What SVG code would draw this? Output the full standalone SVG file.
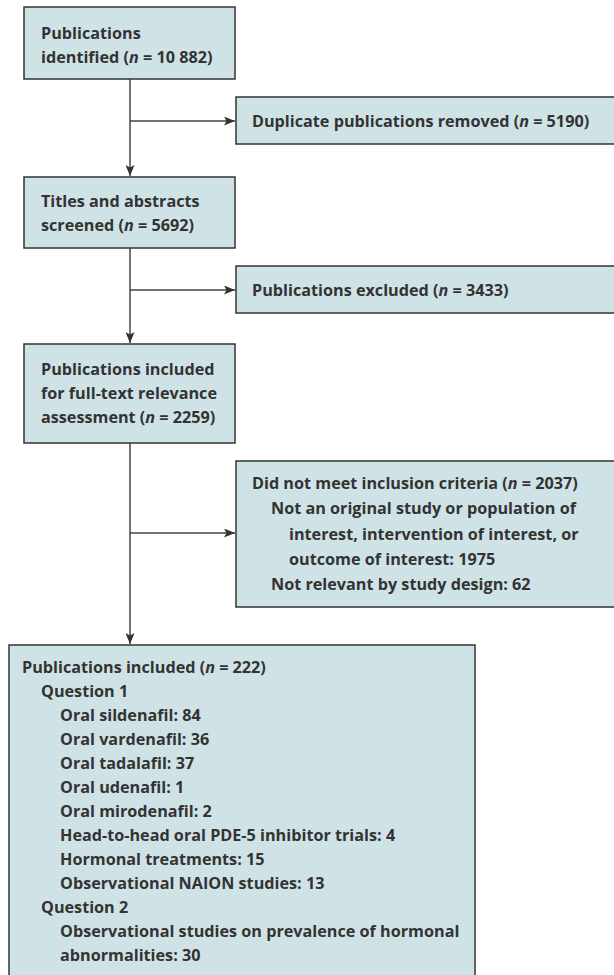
<svg xmlns="http://www.w3.org/2000/svg" width="614" height="975" viewBox="0 0 614 975">
<style>
.box{fill:#cfe3e6;stroke:#333;stroke-width:1.5}
.t{font-family:"Open Sans","Noto Sans",sans-serif;font-weight:bold;font-size:16.2px;fill:#333}
.i{font-style:italic}
.c{stroke:#444;stroke-width:1.5;fill:none}
</style>
<defs>
<marker id="ah" markerWidth="11" markerHeight="9" refX="11" refY="4.5" orient="auto" markerUnits="userSpaceOnUse">
<path d="M0,0 L11,4.5 L0,9 L2.5,4.5 Z" fill="#333"/>
</marker>
</defs>
<rect width="614" height="975" fill="#fff"/>
<g id="connectors">
<line class="c" x1="130" y1="79" x2="130" y2="176" marker-end="url(#ah)"/>
<line class="c" x1="130" y1="121" x2="235" y2="121" marker-end="url(#ah)"/>
<line class="c" x1="130" y1="248" x2="130" y2="343" marker-end="url(#ah)"/>
<line class="c" x1="130" y1="290" x2="235" y2="290" marker-end="url(#ah)"/>
<line class="c" x1="130" y1="443" x2="130" y2="644" marker-end="url(#ah)"/>
<line class="c" x1="130" y1="533" x2="235" y2="533" marker-end="url(#ah)"/>
</g>
<g id="n1">
<rect class="box" x="24" y="7" width="211" height="72"/>
<text class="t" x="41" y="39">Publications</text>
<text class="t" x="41" y="63">identified (<tspan class="i">n</tspan> = 10 882)</text>
</g>
<g id="n2">
<rect class="box" x="236" y="97" width="390" height="47"/>
<text class="t" x="252" y="127">Duplicate publications removed (<tspan class="i">n</tspan> = 5190)</text>
</g>
<g id="n3">
<rect class="box" x="24" y="177" width="211" height="71"/>
<text class="t" x="41" y="207">Titles and abstracts</text>
<text class="t" x="41" y="231">screened (<tspan class="i">n</tspan> = 5692)</text>
</g>
<g id="n4">
<rect class="box" x="236" y="266" width="390" height="47"/>
<text class="t" x="252" y="296">Publications excluded (<tspan class="i">n</tspan> = 3433)</text>
</g>
<g id="n5">
<rect class="box" x="24" y="344" width="211" height="99"/>
<text class="t" x="41" y="375">Publications included</text>
<text class="t" x="41" y="399">for full-text relevance</text>
<text class="t" x="41" y="423">assessment (<tspan class="i">n</tspan> = 2259)</text>
</g>
<g id="n6">
<rect class="box" x="236" y="461" width="390" height="146"/>
<text class="t" x="252" y="489">Did not meet inclusion criteria (<tspan class="i">n</tspan> = 2037)</text>
<text class="t" x="271" y="514">Not an original study or population of</text>
<text class="t" x="289" y="539.5">interest, intervention of interest, or</text>
<text class="t" x="289" y="565">outcome of interest: 1975</text>
<text class="t" x="271" y="590">Not relevant by study design: 62</text>
</g>
<g id="n7">
<rect class="box" x="9" y="645" width="466" height="345"/>
<text class="t" x="22" y="673">Publications included (<tspan class="i">n</tspan> = 222)</text>
<text class="t" x="41" y="697">Question 1</text>
<text class="t" x="60" y="721">Oral sildenafil: 84</text>
<text class="t" x="60" y="745">Oral vardenafil: 36</text>
<text class="t" x="60" y="769">Oral tadalafil: 37</text>
<text class="t" x="60" y="793">Oral udenafil: 1</text>
<text class="t" x="60" y="817">Oral mirodenafil: 2</text>
<text class="t" x="60" y="841">Head-to-head oral PDE-5 inhibitor trials: 4</text>
<text class="t" x="60" y="865">Hormonal treatments: 15</text>
<text class="t" x="60" y="889">Observational NAION studies: 13</text>
<text class="t" x="41" y="913">Question 2</text>
<text class="t" x="60" y="937">Observational studies on prevalence of hormonal</text>
<text class="t" x="60" y="961">abnormalities: 30</text>
</g>
</svg>
